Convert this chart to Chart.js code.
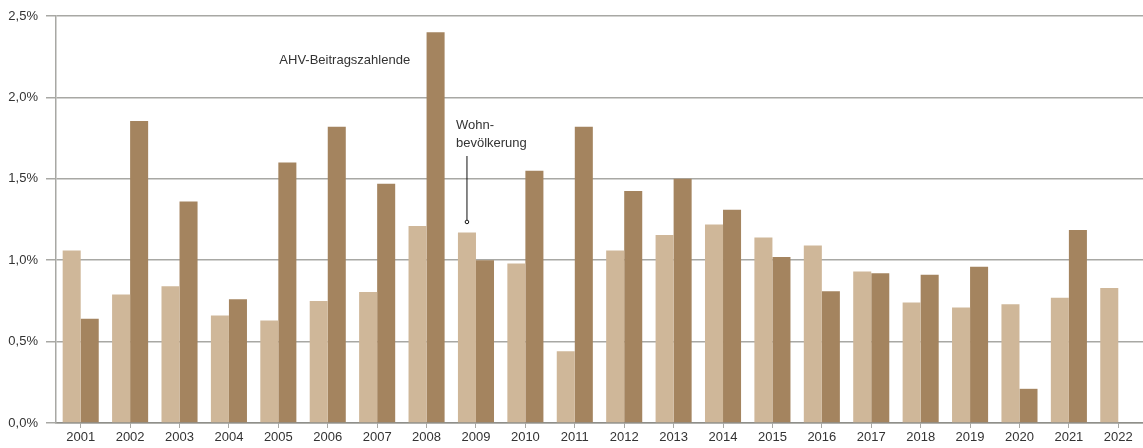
<!DOCTYPE html>
<html>
<head>
<meta charset="utf-8">
<script src="https://cdn.jsdelivr.net/npm/chart.js@4"></script>
<style>
  html, body { margin: 0; padding: 0; background: #fff; }
  #wrap { width: 1143px; height: 448px; }
</style>
</head>
<body>
<div id="wrap"><canvas id="myChart"></canvas></div>
<script>
const years = ["2001","2002","2003","2004","2005","2006","2007","2008","2009","2010","2011",
  "2012","2013","2014","2015","2016","2017","2018","2019","2020","2021","2022"];
const wohnbevoelkerung = [1.06, 0.79, 0.84, 0.66, 0.63, 0.75, 0.805, 1.21, 1.17, 0.98, 0.44,
  1.06, 1.155, 1.22, 1.14, 1.09, 0.93, 0.74, 0.71, 0.73, 0.77, 0.83];
const ahvBeitragszahlende = [0.64, 1.855, 1.36, 0.76, 1.60, 1.82, 1.47, 2.40, 1.00, 1.55, 1.82,
  1.425, 1.50, 1.31, 1.02, 0.81, 0.92, 0.91, 0.96, 0.21, 1.185, null];
const yTicks = [0, 0.5, 1, 1.5, 2, 2.5];

const fontFamily = "'Liberation Sans', Arial, sans-serif";
const gridColor = '#a8a8a4';

// labels inside the plot
const labelPlugin = {
  id: 'labels',
  afterDatasetsDraw(chart) {
    const ctx = chart.ctx;
    const x = chart.scales.x, y = chart.scales.y;
    ctx.save();
    ctx.font = '13px ' + fontFamily;
    ctx.fillStyle = '#333';
    ctx.textBaseline = 'middle';
    ctx.textAlign = 'left';
    ctx.fillText('AHV-Beitragszahlende', x.getPixelForValue(4) + 1, y.getPixelForValue(2.23));

    // Wohnbevölkerung, pointing at the light bar of 2009
    const meta = chart.getDatasetMeta(0);
    const bx = meta.data[8].x;
    ctx.fillText('Wohn-', bx - 11, y.getPixelForValue(1.83));
    ctx.fillText('bevölkerung', bx - 11, y.getPixelForValue(1.72));
    const top = y.getPixelForValue(1.64), bot = y.getPixelForValue(1.235);
    ctx.strokeStyle = '#111';
    ctx.lineWidth = 1;
    ctx.beginPath();
    ctx.moveTo(bx, top);
    ctx.lineTo(bx, bot - 2);
    ctx.stroke();
    ctx.beginPath();
    ctx.arc(bx, bot, 1.8, 0, Math.PI * 2);
    ctx.stroke();
    ctx.restore();
  }
};

const data = {
  labels: years,
  datasets: [{
    label: 'Wohnbevölkerung',
    backgroundColor: '#cfb799',
    data: wohnbevoelkerung,
    categoryPercentage: 0.73,
    barPercentage: 1
  }, {
    label: 'AHV-Beitragszahlende',
    backgroundColor: '#a4845f',
    data: ahvBeitragszahlende,
    categoryPercentage: 0.73,
    barPercentage: 1
  }]
};

const config = {
  type: 'bar',
  data: data,
  options: {
    responsive: true,
    maintainAspectRatio: false,
    animation: false,
    layout: { padding: { top: 16, right: 0, left: 0, bottom: 0 } },
    plugins: { legend: { display: false }, tooltip: { enabled: false } },
    scales: {
      x: {
        grid: { drawOnChartArea: false, drawTicks: true, tickLength: 5, offset: false, color: gridColor },
        border: { color: '#8f8f8a', width: 1.5 },
        ticks: { color: '#333', font: { family: fontFamily, size: 13 }, padding: 2, maxRotation: 0, autoSkip: false },
        afterFit(scale) { scale.height = 25; }
      },
      y: {
        min: 0,
        max: 2.5,
        afterBuildTicks(scale) { scale.ticks = yTicks.map(v => ({ value: v })); },
        grid: { color: gridColor, lineWidth: 1.5, tickLength: 10 },
        border: { color: gridColor, width: 1.5 },
        ticks: {
          color: '#333',
          font: { family: fontFamily, size: 13 },
          padding: 8,
          callback: v => v.toFixed(1).replace('.', ',') + '%'
        },
        afterFit(scale) { scale.width = 56; }
      }
    }
  },
  plugins: [labelPlugin]
};

var myChart = new Chart(document.getElementById('myChart'), config);
</script>
</body>
</html>
